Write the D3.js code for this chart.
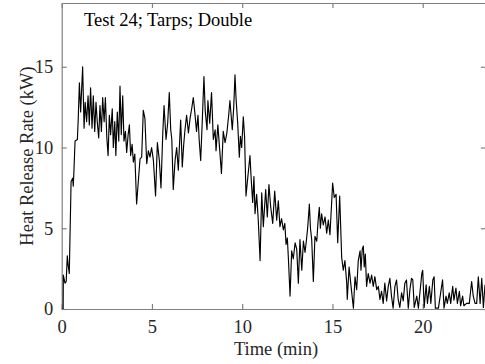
<!DOCTYPE html>
<html>
<head>
<meta charset="utf-8">
<script src="https://cdn.jsdelivr.net/npm/d3@7"></script>
<style>
  body { margin: 0; background: #fff; }
  svg text { font-family: "Liberation Serif", "Times New Roman", serif; }
</style>
</head>
<body>
<div id="chart"></div>
<script>
// time (min) and heat release rate (kW)
const times = [
  0, 0.08, 0.09, 0.18, 0.25, 0.31, 0.36, 0.42, 0.52, 0.61, 0.64, 0.68, 0.74, 0.87, 0.92, 0.98,
  1.05, 1.16, 1.24, 1.3, 1.38, 1.46, 1.53, 1.6, 1.68, 1.75, 1.83, 1.9, 1.97, 2.05, 2.12, 2.2,
  2.27, 2.35, 2.42, 2.5, 2.57, 2.64, 2.71, 2.8, 2.86, 2.94, 3.0, 3.08, 3.16, 3.23, 3.3, 3.38,
  3.45, 3.53, 3.6, 3.68, 3.75, 3.82, 3.9, 3.97, 4.05, 4.15, 4.34, 4.43, 4.52, 4.61, 4.71, 4.8,
  4.89, 4.98, 5.08, 5.2, 5.3, 5.41, 5.5, 5.6, 5.67, 5.78, 5.87, 5.96, 6.04, 6.1, 6.18, 6.28,
  6.37, 6.46, 6.59, 6.68, 6.76, 6.83, 6.92, 7.02, 7.11, 7.2, 7.29, 7.38, 7.47, 7.55, 7.62, 7.7,
  7.8, 7.88, 7.95, 8.05, 8.1, 8.2, 8.3, 8.4, 8.5, 8.55, 8.65, 8.75, 8.85, 8.95, 9.05, 9.15,
  9.25, 9.32, 9.45, 9.53, 9.6, 9.66, 9.75, 9.84, 9.9, 9.97, 10.06, 10.13, 10.21, 10.34, 10.43, 10.5,
  10.58, 10.65, 10.71, 10.8, 10.89, 10.99, 11.08, 11.17, 11.3, 11.39, 11.48, 11.58, 11.69, 11.8, 11.91, 12.0,
  12.09, 12.18, 12.28, 12.36, 12.43, 12.5, 12.56, 12.65, 12.74, 12.83, 12.93, 13.02, 13.11, 13.2, 13.3, 13.39,
  13.48, 13.57, 13.64, 13.72, 13.78, 13.85, 13.94, 14.03, 14.13, 14.2, 14.27, 14.33, 14.4, 14.49, 14.59, 14.68,
  14.77, 14.86, 14.96, 15.01, 15.1, 15.2, 15.29, 15.4, 15.51, 15.6, 15.69, 15.79, 15.82, 15.92, 16.03, 16.16,
  16.25, 16.34, 16.43, 16.53, 16.58, 16.65, 16.71, 16.76, 16.82, 16.89, 16.98, 17.08, 17.17, 17.26, 17.35, 17.45,
  17.54, 17.63, 17.72, 17.81, 17.9, 18.0, 18.09, 18.18, 18.27, 18.36, 18.46, 18.55, 18.64, 18.73, 18.83, 18.92,
  19.01, 19.1, 19.2, 19.29, 19.38, 19.45, 19.53, 19.67, 19.76, 19.95, 20.0, 20.08, 20.19, 20.26, 20.37, 20.45,
  20.56, 20.63, 20.7, 20.87, 21.1, 21.18, 21.29, 21.36, 21.47, 21.55, 21.66, 21.73, 21.84, 21.92, 22.03, 22.1,
  22.21, 22.28, 22.43, 22.58, 22.71, 22.8, 22.9, 22.99, 23.08, 23.18, 23.27, 23.36, 23.45
];
const hrr = [
  0, 0, 2.1, 1.6, 1.7, 3.3, 2.7, 2.2, 7.9, 8.1, 7.6, 8.6, 10.4, 10.5, 11.9, 14.0,
  12.2, 15.0, 11.2, 12.8, 11.6, 13.2, 11.4, 13.7, 11.2, 13.2, 11.0, 12.8, 11.6, 10.6, 12.6, 11.0,
  13.1, 11.6, 13.1, 10.6, 9.5, 12.0, 10.8, 12.4, 10.0, 11.6, 9.5, 12.2, 10.4, 13.8, 10.8, 13.2,
  10.4, 11.0, 9.7, 10.8, 11.4, 9.5, 10.2, 9.1, 9.6, 6.5, 9.3, 9.4, 12.3, 11.8, 9.0, 9.8,
  9.4, 10.0, 9.2, 7.0, 10.3, 9.2, 7.5, 10.9, 12.6, 10.5, 11.5, 13.4, 11.1, 10.5, 7.4, 9.2,
  10.0, 8.6, 11.7, 8.8, 10.2, 11.1, 12.0, 10.9, 11.8, 12.4, 13.1, 12.1, 11.0, 12.0, 10.4, 9.2,
  12.0, 14.4, 12.3, 11.1, 12.9, 11.5, 13.4, 10.5, 11.1, 9.8, 11.4, 9.9, 8.4, 11.0, 10.3, 10.9,
  12.0, 12.9, 11.1, 12.5, 14.5, 13.0, 11.5, 9.4, 10.7, 10.0, 11.9, 10.7, 7.0, 8.5, 9.5, 8.0,
  6.6, 8.2, 5.9, 7.1, 5.5, 3.0, 7.2, 5.1, 7.4, 5.7, 7.7, 6.3, 5.3, 7.3, 5.5, 6.7,
  5.1, 5.6, 4.9, 5.3, 4.0, 4.4, 3.1, 0.8, 3.6, 3.1, 4.1, 3.7, 1.6, 4.3, 2.4, 4.2,
  3.5, 4.4, 5.2, 6.5, 5.0, 4.3, 1.7, 4.5, 4.2, 5.4, 6.3, 5.0, 5.9, 5.2, 5.7, 4.7,
  5.5, 4.6, 6.7, 7.8, 6.9, 7.1, 4.1, 7.0, 3.2, 2.4, 3.0, 1.6, 0.6, 2.6, 1.4, 0.05,
  2.0, 1.2, 3.0, 3.6, 2.4, 3.7, 3.9, 2.6, 3.4, 1.4, 2.2, 1.6, 2.1, 1.4, 2.0, 1.2,
  1.4, 0.6, 1.1, 0.35, 1.6, 0.5, 1.4, 1.9, 0.8, 0.05, 1.4, 1.8, 0.6, 0.1, 1.0, 0.5,
  1.6, 1.8, 0.05, 1.2, 1.9, 1.8, 0.1, 0.8, 0.05, 2.2, 2.4, 0.1, 1.5, 0.35, 1.4, 0.35,
  1.8, 2.0, 0.05, 0.05, 1.8, 0.05, 0.8, 0.35, 1.0, 0.35, 1.4, 0.55, 1.3, 0.35, 1.1, 0.2,
  0.8, 0.2, 0.35, 0.35, 1.7, 0.8, 0.35, 0.35, 2.0, 0.35, 1.9, 0.1, 1.5
];
const xTicks = [0, 5, 10, 15, 20];
const yTicks = [0, 5, 10, 15];
const title = "Test 24; Tarps; Double";
const xLabel = "Time (min)";
const yLabel = "Heat Release Rate (kW)";

const width = 485, height = 364;
const plot = {left: 61.7, right: 485.9, top: 3, bottom: 309};
const axisColor = "#808080";
const labelColor = "#262626";
const fontSize = 18.5;

const svg = d3.select("#chart")
  .append("svg")
  .attr("width", width)
  .attr("height", height);

const x = d3.scaleLinear()
  .domain([0, 23.5])
  .range([plot.left, plot.right]);

const y = d3.scaleLinear()
  .domain([0, 18.95])
  .range([plot.bottom, plot.top]);

function styleAxis(g) {
  g.attr("font-family", null).attr("font-size", null);
  g.select(".domain").attr("stroke", axisColor).attr("stroke-width", 1.2);
  g.selectAll(".tick line").attr("stroke", axisColor).attr("stroke-width", 1.2);
  g.selectAll(".tick text").attr("fill", labelColor).attr("font-size", fontSize);
}

// bottom and left axes with ticks pointing inward
svg.append("g")
  .attr("transform", "translate(0," + plot.bottom + ")")
  .call(d3.axisBottom(x).tickValues(xTicks).tickSizeInner(-5).tickSizeOuter(0).tickPadding(11))
  .call(styleAxis);

svg.append("g")
  .attr("transform", "translate(" + plot.left + ",0)")
  .call(d3.axisLeft(y).tickValues(yTicks).tickSizeInner(-5).tickSizeOuter(0).tickPadding(8.4))
  .call(styleAxis);

// box: top and right axes without labels
svg.append("g")
  .attr("transform", "translate(0," + plot.top + ")")
  .call(d3.axisTop(x).tickValues(xTicks).tickSizeInner(-5).tickSizeOuter(0).tickFormat(""))
  .call(styleAxis);

svg.append("g")
  .attr("transform", "translate(" + plot.right + ",0)")
  .call(d3.axisRight(y).tickValues(yTicks).tickSizeInner(-5).tickSizeOuter(0).tickFormat(""))
  .call(styleAxis);

svg.append("clipPath")
  .attr("id", "plot-clip")
  .append("rect")
  .attr("x", plot.left)
  .attr("y", plot.top)
  .attr("width", plot.right - plot.left)
  .attr("height", plot.bottom - plot.top);

const line = d3.line()
  .x((d, i) => x(times[i]))
  .y(d => y(d));

svg.append("path")
  .datum(hrr)
  .attr("clip-path", "url(#plot-clip)")
  .attr("fill", "none")
  .attr("stroke", "#000")
  .attr("stroke-width", 1.15)
  .attr("stroke-linejoin", "round")
  .attr("d", line);

svg.append("text")
  .attr("x", 84)
  .attr("y", 26)
  .attr("font-size", fontSize)
  .attr("fill", "#000")
  .text(title);

svg.append("text")
  .attr("x", 276)
  .attr("y", 355)
  .attr("text-anchor", "middle")
  .attr("font-size", fontSize)
  .attr("fill", labelColor)
  .text(xLabel);

svg.append("text")
  .attr("transform", "translate(33," + ((plot.top + plot.bottom) / 2) + ") rotate(-90)")
  .attr("text-anchor", "middle")
  .attr("font-size", fontSize)
  .attr("fill", labelColor)
  .text(yLabel);
</script>
</body>
</html>
